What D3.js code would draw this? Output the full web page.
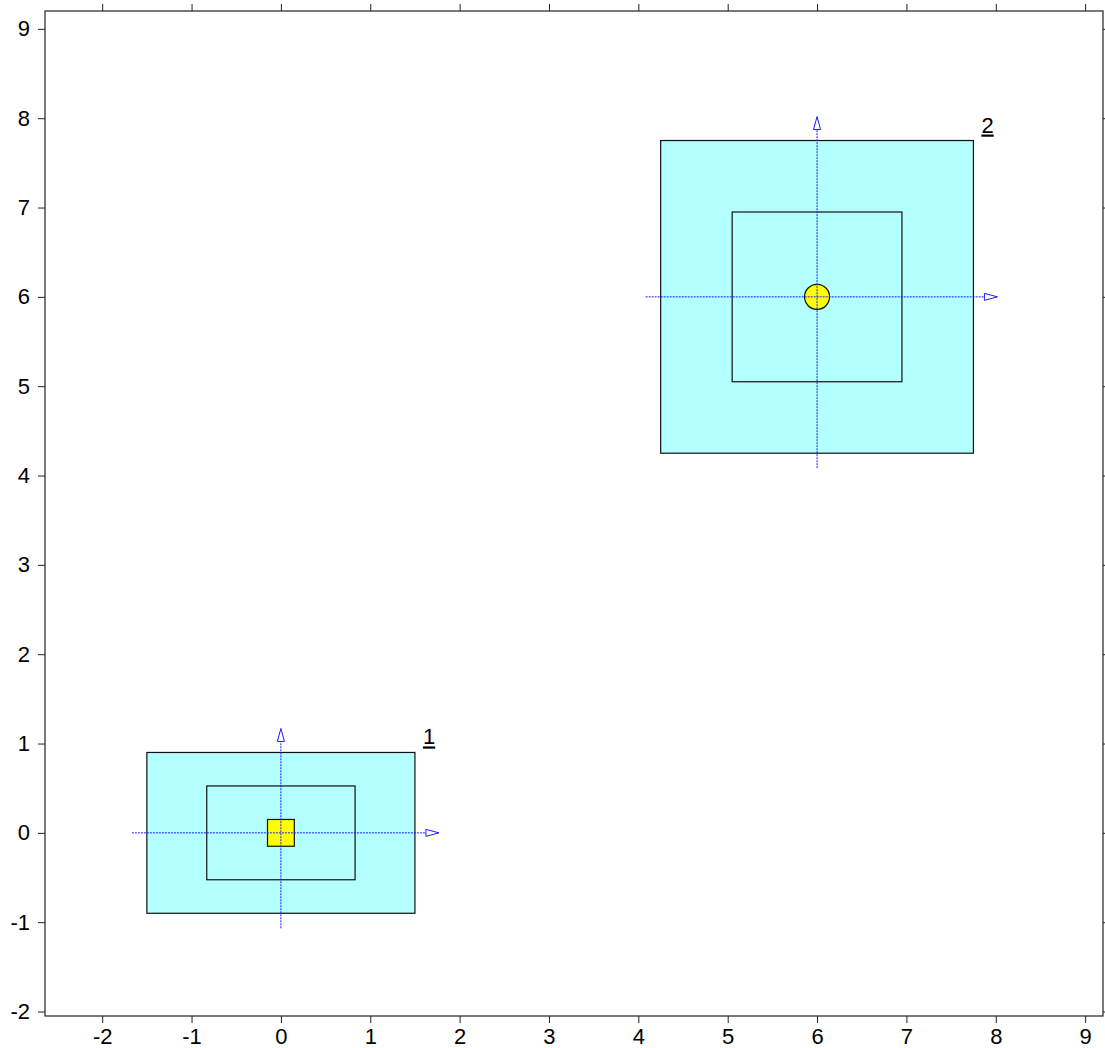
<!DOCTYPE html>
<html>
<head>
<meta charset="utf-8">
<script src="https://cdn.jsdelivr.net/npm/d3@7"></script>
<style>
  body { margin: 0; background: #fff; }
  svg { display: block; font-family: Arial, "Liberation Sans", sans-serif; }
</style>
</head>
<body>
<svg id="chart" width="1105" height="1048"></svg>
<script>
// tick values on both axes
const xTicks = [-2, -1, 0, 1, 2, 3, 4, 5, 6, 7, 8, 9];
const yTicks = [-2, -1, 0, 1, 2, 3, 4, 5, 6, 7, 8, 9];

// the two objects
const labels = ["1", "2"];
const centerX = [0, 6];
const centerY = [0, 6];
const outerHalfW = [1.5, 1.75];
const outerHalfH = [0.9, 1.75];
const innerHalfW = [0.83, 0.95];
const innerHalfH = [0.525, 0.95];
const markerType = ["square", "circle"];
const markerHalf = [0.15, 0.14];

const width = 1105;
const height = 1048;
const margin = { left: 45, right: 2, top: 11, bottom: 32 };

const svg = d3.select("#chart");

const x = d3.scaleLinear()
  .domain([-2.64, 9.2])
  .range([margin.left, width - margin.right]);

const y = d3.scaleLinear()
  .domain([-2.05, 9.2])
  .range([height - margin.bottom, margin.top]);

const shapes = labels.map((label, i) => ({
  label,
  cx: centerX[i],
  cy: centerY[i],
  ow: outerHalfW[i],
  oh: outerHalfH[i],
  iw: innerHalfW[i],
  ih: innerHalfH[i],
  marker: markerType[i],
  mh: markerHalf[i]
}));

const plot = svg.append("g");

// outer filled rectangles
plot.selectAll("rect.outer")
  .data(shapes)
  .join("rect")
  .attr("class", "outer")
  .attr("x", d => x(d.cx - d.ow))
  .attr("y", d => y(d.cy + d.oh))
  .attr("width", d => x(d.cx + d.ow) - x(d.cx - d.ow))
  .attr("height", d => y(d.cy - d.oh) - y(d.cy + d.oh))
  .attr("fill", "#b4ffff")
  .attr("stroke", "#111")
  .attr("stroke-width", 1.2);

// inner outlines
plot.selectAll("rect.inner")
  .data(shapes)
  .join("rect")
  .attr("class", "inner")
  .attr("x", d => x(d.cx - d.iw))
  .attr("y", d => y(d.cy + d.ih))
  .attr("width", d => x(d.cx + d.iw) - x(d.cx - d.iw))
  .attr("height", d => y(d.cy - d.ih) - y(d.cy + d.ih))
  .attr("fill", "none")
  .attr("stroke", "#111")
  .attr("stroke-width", 1.2);

// yellow markers in the middle
plot.selectAll("rect.marker")
  .data(shapes.filter(d => d.marker === "square"))
  .join("rect")
  .attr("class", "marker")
  .attr("x", d => x(d.cx - d.mh))
  .attr("y", d => y(d.cy + d.mh))
  .attr("width", d => x(d.cx + d.mh) - x(d.cx - d.mh))
  .attr("height", d => y(d.cy - d.mh) - y(d.cy + d.mh))
  .attr("fill", "#ffff00")
  .attr("stroke", "#111")
  .attr("stroke-width", 1.2);

plot.selectAll("circle.marker")
  .data(shapes.filter(d => d.marker === "circle"))
  .join("circle")
  .attr("class", "marker")
  .attr("cx", d => x(d.cx))
  .attr("cy", d => y(d.cy))
  .attr("r", d => x(d.cx + d.mh) - x(d.cx))
  .attr("fill", "#ffff00")
  .attr("stroke", "#111")
  .attr("stroke-width", 1.2);

// local axes (blue dotted crosshair with open arrow heads)
const back = 15, tip = 24, headLen = 13, headW = 3.5;
const cross = plot.append("g")
  .attr("stroke", "#1a1aff")
  .attr("stroke-width", 1);

cross.selectAll("line.h")
  .data(shapes)
  .join("line")
  .attr("x1", d => x(d.cx - d.ow) - back)
  .attr("x2", d => x(d.cx + d.ow) + tip - headLen)
  .attr("y1", d => y(d.cy))
  .attr("y2", d => y(d.cy))
  .attr("stroke-dasharray", "2,1");

cross.selectAll("line.v")
  .data(shapes)
  .join("line")
  .attr("x1", d => x(d.cx))
  .attr("x2", d => x(d.cx))
  .attr("y1", d => y(d.cy - d.oh) + back)
  .attr("y2", d => y(d.cy + d.oh) - tip + headLen)
  .attr("stroke-dasharray", "2,1");

cross.selectAll("path.hx")
  .data(shapes)
  .join("path")
  .attr("fill", "#fff")
  .attr("d", d => {
    const t = x(d.cx + d.ow) + tip, c = y(d.cy);
    return `M${t - headLen},${c - headW}L${t},${c}L${t - headLen},${c + headW}Z`;
  });

cross.selectAll("path.hy")
  .data(shapes)
  .join("path")
  .attr("fill", "#fff")
  .attr("d", d => {
    const t = y(d.cy + d.oh) - tip, c = x(d.cx);
    return `M${c - headW},${t + headLen}L${c},${t}L${c + headW},${t + headLen}Z`;
  });

// underlined labels at the top-right corner
plot.selectAll("text.label")
  .data(shapes)
  .join("text")
  .attr("class", "label")
  .attr("x", d => x(d.cx + d.ow) + 8)
  .attr("y", d => y(d.cy + d.oh) - 8)
  .attr("font-size", 22)
  .attr("text-decoration", "underline")
  .attr("fill", "#000")
  .text(d => d.label);

// axes
const axisStyle = g => {
  g.select(".domain").remove();
  g.selectAll(".tick line").attr("stroke", "#222");
  g.selectAll(".tick text").attr("fill", "#000").attr("font-size", 22)
    .attr("font-family", "Arial, 'Liberation Sans', sans-serif");
};
const fmt = d => String(d);

svg.append("g")
  .attr("transform", `translate(0,${height - margin.bottom})`)
  .call(d3.axisBottom(x).tickValues(xTicks).tickFormat(fmt).tickSize(7).tickSizeOuter(0).tickPadding(5))
  .call(axisStyle);

svg.append("g")
  .attr("transform", `translate(0,${margin.top})`)
  .call(d3.axisTop(x).tickValues(xTicks).tickSize(7).tickSizeOuter(0).tickFormat(""))
  .call(axisStyle);

svg.append("g")
  .attr("transform", `translate(${margin.left},0)`)
  .call(d3.axisLeft(y).tickValues(yTicks).tickFormat(fmt).tickSize(7).tickSizeOuter(0).tickPadding(8))
  .call(axisStyle);

svg.append("g")
  .attr("transform", `translate(${width - margin.right},0)`)
  .call(d3.axisRight(y).tickValues(yTicks).tickSize(7).tickSizeOuter(0).tickFormat(""))
  .call(axisStyle);

// frame
svg.append("rect")
  .attr("x", margin.left)
  .attr("y", margin.top)
  .attr("width", width - margin.left - margin.right)
  .attr("height", height - margin.top - margin.bottom)
  .attr("fill", "none")
  .attr("stroke", "#222")
  .attr("stroke-width", 1.2);
</script>
</body>
</html>
